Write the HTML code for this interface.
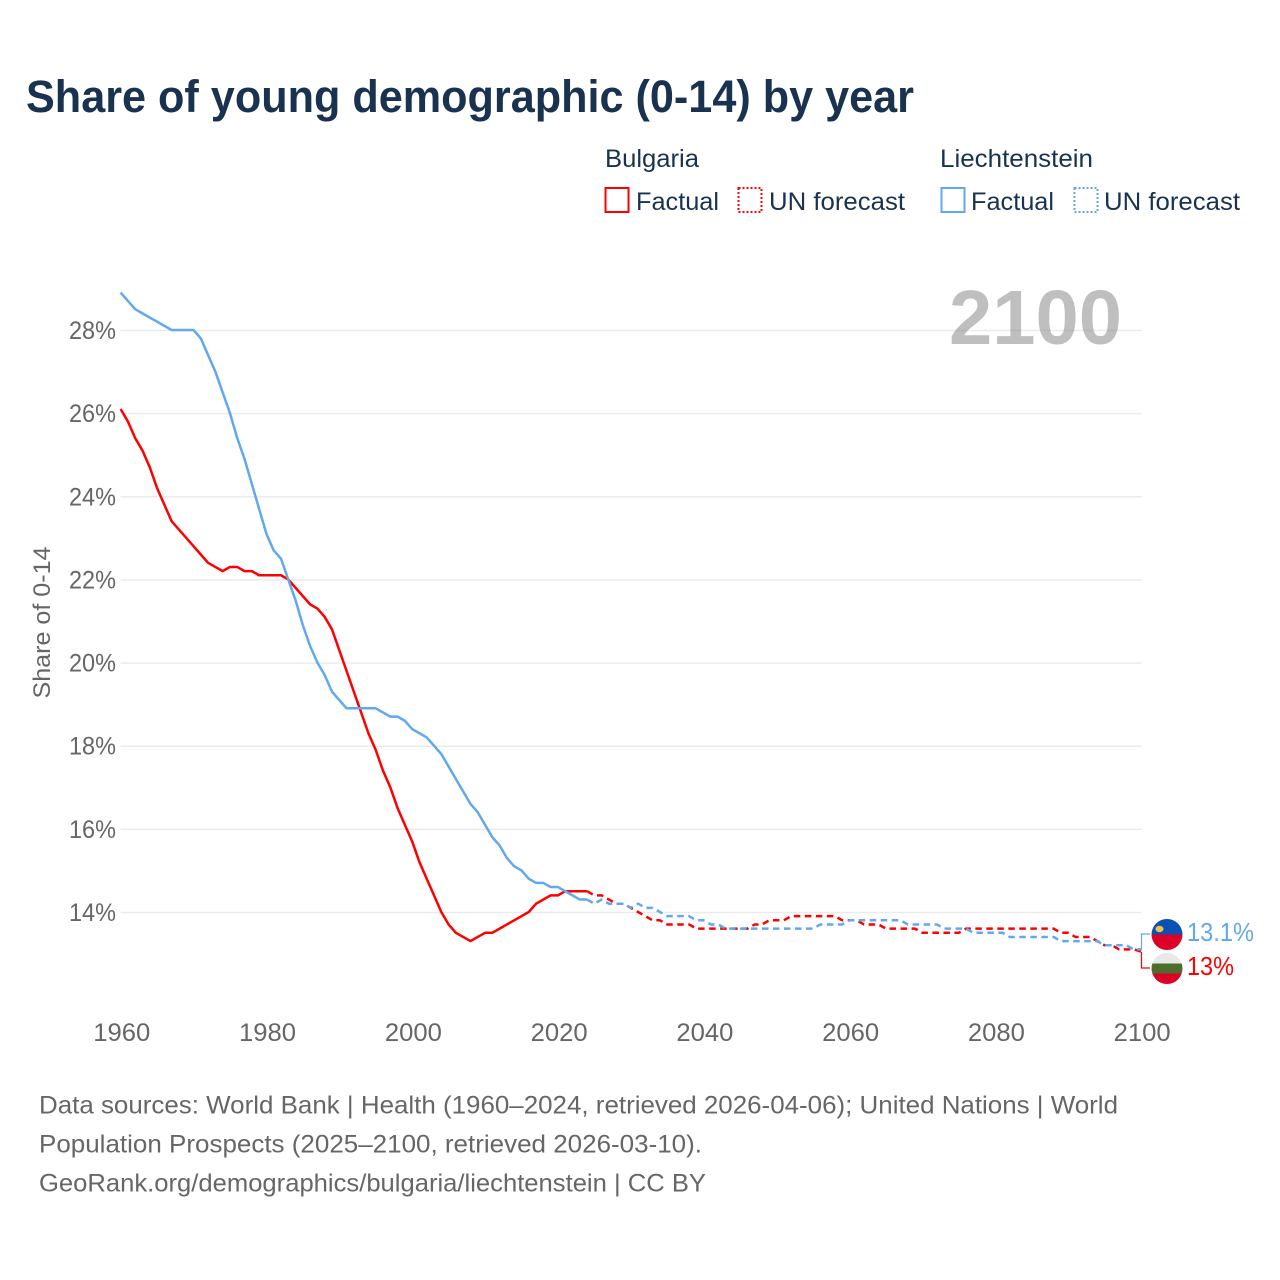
<!DOCTYPE html>
<html lang="en">
<head>
<meta charset="utf-8">
<title>Share of young demographic (0-14) by year</title>
<style>
html,body{margin:0;padding:0;background:#fff;}
svg{display:block;font-family:"Liberation Sans",sans-serif;}
</style>
</head>
<body>
<svg id="chart" xmlns="http://www.w3.org/2000/svg" width="1280" height="1280" viewBox="0 0 1280 1280">
  <rect width="1280" height="1280" fill="#ffffff"/>
  <text x="26" y="112" font-size="45" font-weight="700" fill="#18324f" textLength="888" lengthAdjust="spacingAndGlyphs">Share of young demographic (0-14) by year</text>

  <g>
    <text x="605" y="167" font-size="25" fill="#18324f" textLength="94" lengthAdjust="spacingAndGlyphs">Bulgaria</text>
    <text x="940" y="167" font-size="25" fill="#18324f" textLength="153" lengthAdjust="spacingAndGlyphs">Liechtenstein</text>
    <g>
      <rect x="605.5" y="188" width="23" height="24" fill="none" stroke="#ff0000" stroke-width="2"/>
      <text x="636" y="210" font-size="25" fill="#18324f" textLength="83" lengthAdjust="spacingAndGlyphs">Factual</text>
    </g>
    <g>
      <rect x="738.5" y="188" width="23" height="24" fill="none" stroke="#ff0000" stroke-width="2" stroke-dasharray="2 2"/>
      <text x="769" y="210" font-size="25" fill="#18324f" textLength="136" lengthAdjust="spacingAndGlyphs">UN forecast</text>
    </g>
    <g>
      <rect x="941.5" y="188" width="23" height="24" fill="none" stroke="#62a8ee" stroke-width="2"/>
      <text x="971" y="210" font-size="25" fill="#18324f" textLength="83" lengthAdjust="spacingAndGlyphs">Factual</text>
    </g>
    <g>
      <rect x="1074.5" y="188" width="23" height="24" fill="none" stroke="#62a8ee" stroke-width="2" stroke-dasharray="2 2"/>
      <text x="1104" y="210" font-size="25" fill="#18324f" textLength="136" lengthAdjust="spacingAndGlyphs">UN forecast</text>
    </g>
  </g>

  <g id="grid"></g>
  <g id="y-ticks"></g>
  <g id="x-ticks"></g>
  <text transform="translate(50 622.5) rotate(-90)" text-anchor="middle" font-size="24.5" fill="#666666" textLength="152" lengthAdjust="spacingAndGlyphs">Share of 0-14</text>
  <text x="949" y="344" font-size="77" font-weight="700" fill="#808080" fill-opacity="0.5" textLength="173" lengthAdjust="spacingAndGlyphs">2100</text>

  <g id="series"></g>

  <g id="end-labels">
    <clipPath id="clip-li"><circle cx="1167" cy="934.5" r="15.5"/></clipPath>
    <clipPath id="clip-bg"><circle cx="1167" cy="968.5" r="15.5"/></clipPath>
    <g clip-path="url(#clip-li)">
      <rect x="1151" y="919" width="32" height="15.5" fill="#0a51b3"/>
      <rect x="1151" y="934.5" width="32" height="15.5" fill="#dc0028"/>
      <ellipse cx="1159.5" cy="929" rx="4" ry="3.2" fill="#eec14f"/>
    </g>
    <g clip-path="url(#clip-bg)">
      <rect x="1151" y="953" width="32" height="10.5" fill="#e8e8e8"/>
      <rect x="1151" y="963.5" width="32" height="10" fill="#4c6d2e"/>
      <rect x="1151" y="973.5" width="32" height="11" fill="#dc0028"/>
    </g>
    <text id="label-li" x="1187" y="941" font-size="25.5" fill="#62a8ee" textLength="67" lengthAdjust="spacingAndGlyphs"></text>
    <text id="label-bg" x="1187" y="975" font-size="25.5" fill="#ff0000" textLength="47" lengthAdjust="spacingAndGlyphs"></text>
  </g>

  <g font-size="25" fill="#666666">
    <text x="39" y="1113.5" textLength="1079" lengthAdjust="spacingAndGlyphs">Data sources: World Bank | Health (1960–2024, retrieved 2026-04-06); United Nations | World</text>
    <text x="39" y="1152.5" textLength="663" lengthAdjust="spacingAndGlyphs">Population Prospects (2025–2100, retrieved 2026-03-10).</text>
    <text x="39" y="1191.5" textLength="667" lengthAdjust="spacingAndGlyphs">GeoRank.org/demographics/bulgaria/liechtenstein | CC BY</text>
  </g>
</svg>

<script>
var yTicks = [14, 16, 18, 20, 22, 24, 26, 28];
var xTicks = [1960, 1980, 2000, 2020, 2040, 2060, 2080, 2100];

var factualYears = [1960,1961,1962,1963,1964,1965,1966,1967,1968,1969,1970,1971,1972,1973,1974,1975,1976,1977,1978,1979,1980,1981,1982,1983,1984,1985,1986,1987,1988,1989,1990,1991,1992,1993,1994,1995,1996,1997,1998,1999,2000,2001,2002,2003,2004,2005,2006,2007,2008,2009,2010,2011,2012,2013,2014,2015,2016,2017,2018,2019,2020,2021,2022,2023,2024];

var forecastYears = [2024,2025,2026,2027,2028,2029,2030,2031,2032,2033,2034,2035,2036,2037,2038,2039,2040,2041,2042,2043,2044,2045,2046,2047,2048,2049,2050,2051,2052,2053,2054,2055,2056,2057,2058,2059,2060,2061,2062,2063,2064,2065,2066,2067,2068,2069,2070,2071,2072,2073,2074,2075,2076,2077,2078,2079,2080,2081,2082,2083,2084,2085,2086,2087,2088,2089,2090,2091,2092,2093,2094,2095,2096,2097,2098,2099,2100];

var bulgariaFactual = [26.1,25.8,25.4,25.1,24.7,24.2,23.8,23.4,23.2,23.0,22.8,22.6,22.4,22.3,22.2,22.3,22.3,22.2,22.2,22.1,22.1,22.1,22.1,22.0,21.8,21.6,21.4,21.3,21.1,20.8,20.3,19.8,19.3,18.8,18.3,17.9,17.4,17.0,16.5,16.1,15.7,15.2,14.8,14.4,14.0,13.7,13.5,13.4,13.3,13.4,13.5,13.5,13.6,13.7,13.8,13.9,14.0,14.2,14.3,14.4,14.4,14.5,14.5,14.5,14.5];

var liechtensteinFactual = [28.9,28.7,28.5,28.4,28.3,28.2,28.1,28.0,28.0,28.0,28.0,27.8,27.4,27.0,26.5,26.0,25.4,24.9,24.3,23.7,23.1,22.7,22.5,22.0,21.5,20.9,20.4,20.0,19.7,19.3,19.1,18.9,18.9,18.9,18.9,18.9,18.8,18.7,18.7,18.6,18.4,18.3,18.2,18.0,17.8,17.5,17.2,16.9,16.6,16.4,16.1,15.8,15.6,15.3,15.1,15.0,14.8,14.7,14.7,14.6,14.6,14.5,14.4,14.3,14.3];

var bulgariaForecast = [14.5,14.4,14.4,14.3,14.2,14.2,14.1,14.0,13.9,13.8,13.8,13.7,13.7,13.7,13.7,13.6,13.6,13.6,13.6,13.6,13.6,13.6,13.6,13.7,13.7,13.8,13.8,13.8,13.9,13.9,13.9,13.9,13.9,13.9,13.9,13.8,13.8,13.8,13.7,13.7,13.7,13.6,13.6,13.6,13.6,13.6,13.5,13.5,13.5,13.5,13.5,13.5,13.6,13.6,13.6,13.6,13.6,13.6,13.6,13.6,13.6,13.6,13.6,13.6,13.6,13.5,13.5,13.4,13.4,13.4,13.3,13.2,13.2,13.1,13.1,13.1,13.05];

var liechtensteinForecast = [14.3,14.2,14.3,14.2,14.2,14.2,14.1,14.2,14.1,14.1,14.0,13.9,13.9,13.9,13.9,13.8,13.8,13.7,13.7,13.6,13.6,13.6,13.6,13.6,13.6,13.6,13.6,13.6,13.6,13.6,13.6,13.6,13.7,13.7,13.7,13.7,13.8,13.8,13.8,13.8,13.8,13.8,13.8,13.8,13.7,13.7,13.7,13.7,13.7,13.6,13.6,13.6,13.6,13.5,13.5,13.5,13.5,13.5,13.4,13.4,13.4,13.4,13.4,13.4,13.4,13.3,13.3,13.3,13.3,13.3,13.3,13.2,13.2,13.2,13.2,13.1,13.1];

var endLabelLiechtenstein = "13.1%";
var endLabelBulgaria = "13%";

var SVGNS = "http://www.w3.org/2000/svg";
var RED = "#ff0000";
var BLUE = "#62a8ee";

function xScale(year) {
  return 120.6 + (year - 1960) * (1020.4 / 140);
}
function yScale(share) {
  return 912.5 - (share - 14) * (582 / 14);
}
function make(tag, attrs, parent) {
  var el = document.createElementNS(SVGNS, tag);
  for (var k in attrs) {
    el.setAttribute(k, attrs[k]);
  }
  parent.appendChild(el);
  return el;
}
function linePoints(years, values) {
  return years.map(function (yr, i) {
    return xScale(yr).toFixed(2) + "," + (yScale(values[i]) - 0.5).toFixed(2);
  }).join(" ");
}

var gridGroup = document.getElementById("grid");
var yTickGroup = document.getElementById("y-ticks");
var xTickGroup = document.getElementById("x-ticks");
var seriesGroup = document.getElementById("series");

yTicks.forEach(function (t) {
  var y = yScale(t);
  var line = make("line", { x1: xScale(1960), x2: xScale(2100) + 0.8, y1: y, y2: y, stroke: "#ebebeb", "stroke-width": 1.5 }, gridGroup);
  
  
  var label = make("text", { x: 116, y: y + 8.5, "text-anchor": "end", "font-size": 25, fill: "#666666", textLength: 47, lengthAdjust: "spacingAndGlyphs" }, yTickGroup);
  label.textContent = t + "%";
  
  
});

xTicks.forEach(function (t) {
  var label = make("text", { x: xScale(t) + 1.2, y: 1041, "text-anchor": "middle", "font-size": 25, fill: "#666666", textLength: 57, lengthAdjust: "spacingAndGlyphs" }, xTickGroup);
  label.textContent = String(t);
  
  
});

var redFactualLine = make("polyline", { points: linePoints(factualYears, bulgariaFactual), fill: "none", stroke: RED, "stroke-width": 2.5, "stroke-linejoin": "round" }, seriesGroup);



var redForecastLine = make("polyline", { points: linePoints(forecastYears, bulgariaForecast), fill: "none", stroke: RED, "stroke-width": 2.5, "stroke-dasharray": "6.5 4.5", "stroke-linejoin": "round" }, seriesGroup);



var blueFactualLine = make("polyline", { points: linePoints(factualYears, liechtensteinFactual), fill: "none", stroke: BLUE, "stroke-width": 2.5, "stroke-linejoin": "round" }, seriesGroup);



var blueForecastLine = make("polyline", { points: linePoints(forecastYears, liechtensteinForecast), fill: "none", stroke: BLUE, "stroke-width": 2.5, "stroke-dasharray": "6.5 4.5", "stroke-linejoin": "round" }, seriesGroup);



var lastX = xScale(forecastYears[forecastYears.length - 1]) + 0.5;
var redEndY = yScale(bulgariaForecast[bulgariaForecast.length - 1]);
var blueEndY = yScale(liechtensteinForecast[liechtensteinForecast.length - 1]);

var redConnector = make("polyline", { points: lastX + "," + redEndY + " " + lastX + ",968 1150,968", fill: "none", stroke: RED, "stroke-width": 1.2 }, seriesGroup);



var blueConnector = make("polyline", { points: lastX + "," + blueEndY + " " + lastX + ",934 1150,934", fill: "none", stroke: BLUE, "stroke-width": 1.2 }, seriesGroup);



document.getElementById("label-li").textContent = endLabelLiechtenstein;
document.getElementById("label-bg").textContent = endLabelBulgaria;
</script>
</body>
</html>
